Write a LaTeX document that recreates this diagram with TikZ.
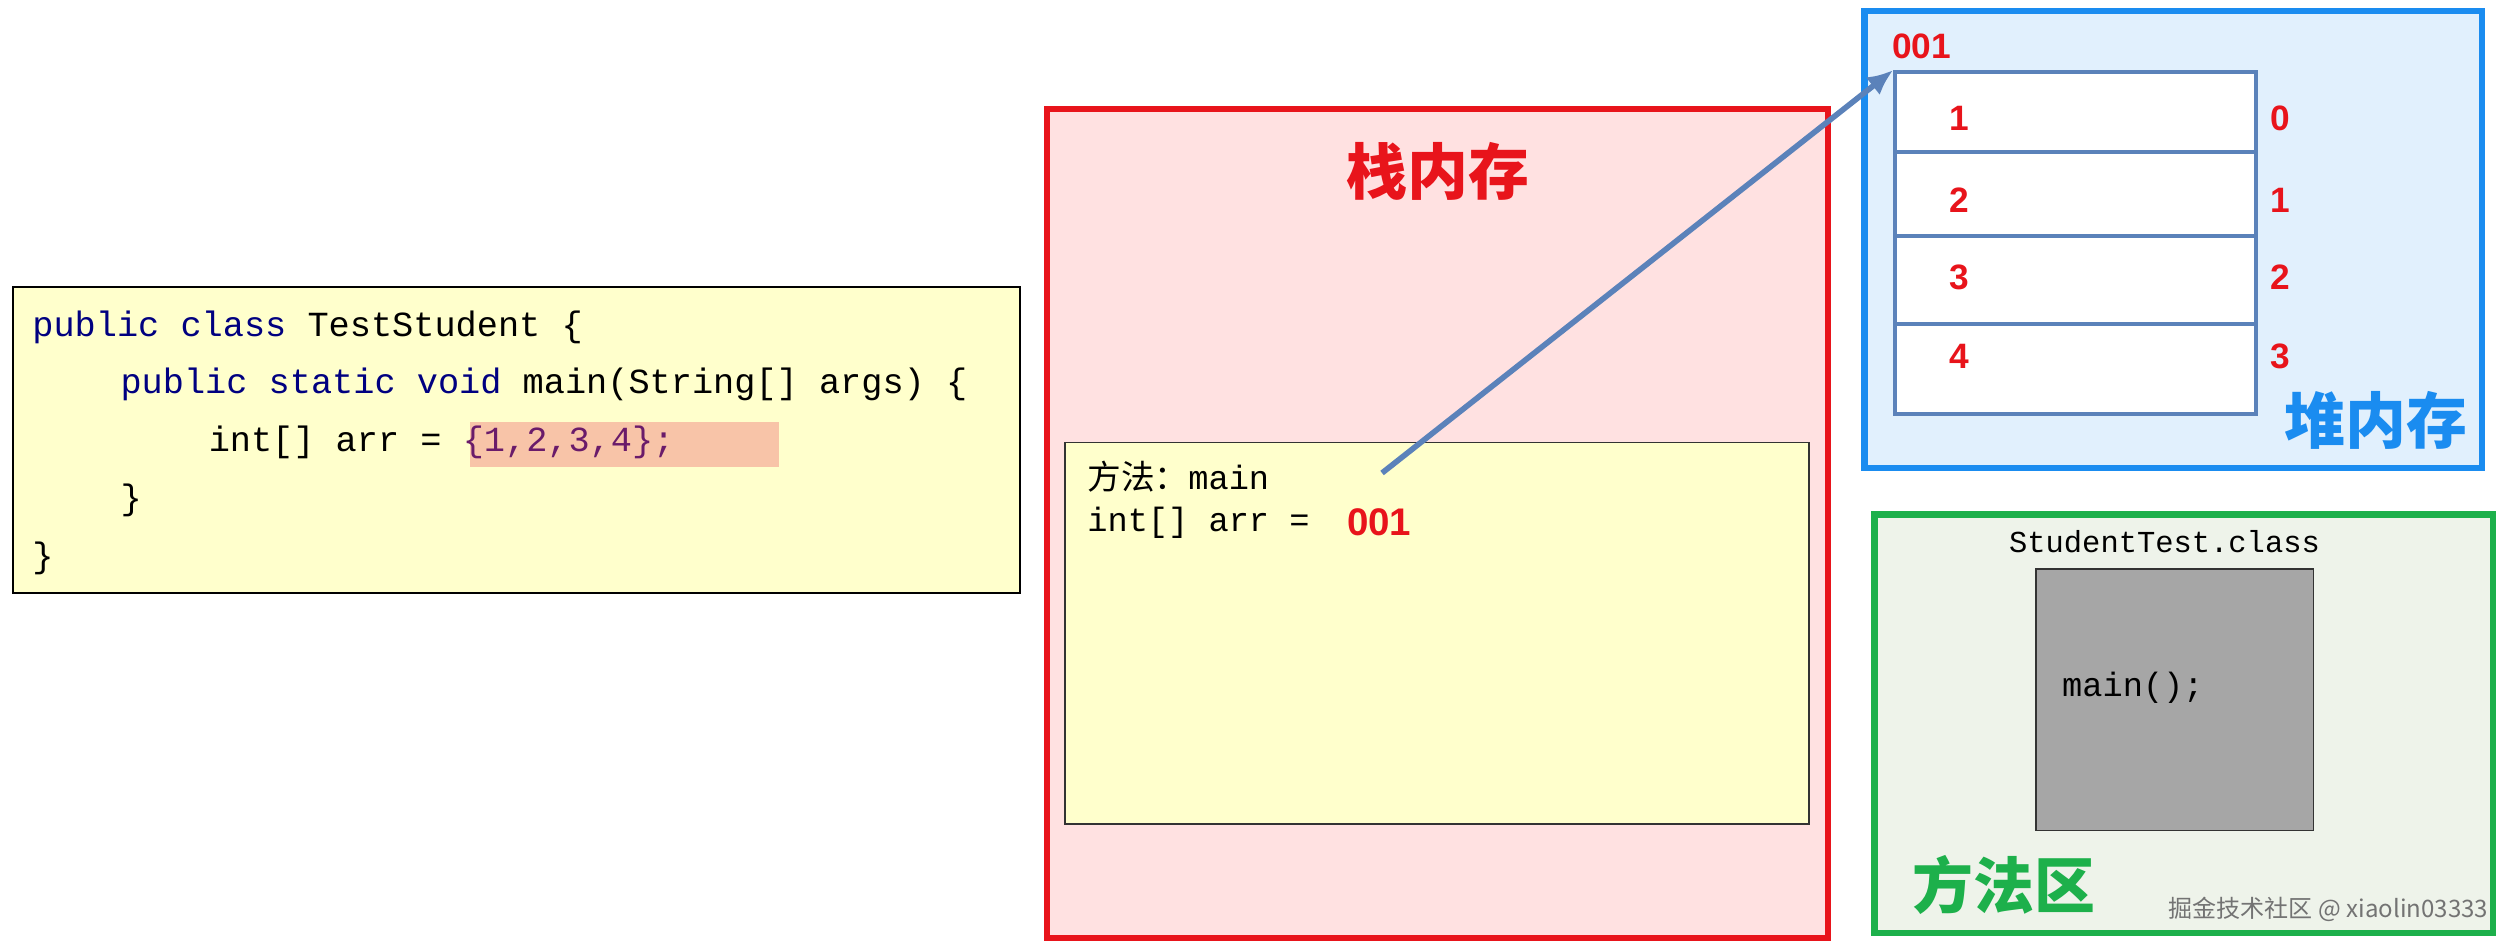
\documentclass[tikz,border=0pt]{standalone}
\usepackage{fontspec}
\usetikzlibrary{arrows.meta}
\setmainfont{Liberation Sans}
\setmonofont{Liberation Mono}
\newfontfamily\cjk{Noto Sans CJK SC}
\definecolor{kw}{HTML}{000080}
\definecolor{hl}{HTML}{F8C4A8}
\definecolor{lit}{HTML}{6A1B6A}
\definecolor{cy}{HTML}{FFFFCC}
\definecolor{stk}{HTML}{FFE1E1}
\definecolor{rd}{HTML}{E8141B}
\definecolor{bl}{HTML}{1A8CF0}
\definecolor{hp}{HTML}{E1F0FD}
\definecolor{sb}{HTML}{5B82BA}
\definecolor{gr}{HTML}{1DB04B}
\definecolor{ma}{HTML}{EEF3EA}
\begin{document}
\begin{tikzpicture}[x=1pt,y=-1pt,
  code/.style={anchor=west,font=\ttfamily\fontsize{22}{26}\selectfont,inner sep=0},
  idx/.style={font=\bfseries\fontsize{22}{26}\selectfont,text=rd,inner sep=0},
  cell/.style={draw=sb,line width=2.5pt,fill=white,minimum width=225,minimum height=53,inner sep=0}]
\useasboundingbox (0,0) rectangle (1568,589);
% code box
\node[draw=black,line width=1pt,fill=cy,minimum width=628,minimum height=191,inner sep=0] (codebox) at (322,274.5) {};
\fill[hl] (293,263) rectangle (486,291);
\node[code] (c1) at (20,204) {\textcolor{kw}{public class} TestStudent \{};
\node[code] (c2) at (75,240) {\textcolor{kw}{public static void} main(String[] args) \{};
\node[code] (c3) at (130,276) {int[] arr = \textcolor{lit}{\{1,2,3,4\};}};
\node[code] (c4) at (75,312) {\}};
\node[code] (c5) at (20,348) {\}};
% stack
\node[draw=rd,line width=4pt,fill=stk,minimum width=487,minimum height=517,inner sep=0] (stack) at (896.5,326.5) {};
\node[text=rd,font=\cjk\bfseries\fontsize{38}{40}\selectfont] (st) at (897,107) {栈内存};
\node[draw=black!80,line width=1.2pt,fill=cy,minimum width=464,minimum height=238,inner sep=0] (frame) at (896,395) {};
\node[anchor=west,inner sep=0,font=\ttfamily\fontsize{21}{24}\selectfont] (m1) at (678,297) {{\cjk 方法：}main};
\node[anchor=west,inner sep=0,font=\ttfamily\fontsize{21}{24}\selectfont] (m2) at (678,326) {int[] arr =};
\node[anchor=west,inner sep=0,text=rd,font=\bfseries\fontsize{24}{26}\selectfont] (ref) at (840,326) {001};
\coordinate (as) at (862,295);
% heap
\node[draw=bl,line width=4pt,fill=hp,minimum width=385,minimum height=285,inner sep=0] (heap) at (1355.5,149.5) {};
\node[anchor=west,inner sep=0,text=rd,font=\bfseries\fontsize{22}{26}\selectfont] (haddr) at (1180,29) {001};
\node[cell,minimum height=50] (r0) at (1294.5,70) {};
\node[cell,minimum height=52] (r1) at (1294.5,121) {};
\node[cell,minimum height=55] (r2) at (1294.5,174.5) {};
\node[cell,minimum height=56] (r3) at (1294.5,230) {};
\foreach \i/\v/\y in {0/1/74,1/2/125,2/3/173,3/4/222}{
  \node[idx] (v\i) at (1222,\y) {\v};
  \node[idx] (k\i) at (1422,\y) {\i};
}
\node[text=bl,font=\cjk\bfseries\fontsize{38}{40}\selectfont] (ht) at (1482,262) {堆内存};
\draw[sb,line width=3.5pt,-{Latex[length=16pt,width=14pt]}] (as) -- (r0.north west);
% method area
\node[draw=gr,line width=4pt,fill=ma,minimum width=386,minimum height=261,inner sep=0] (marea) at (1362,451.5) {};
\node[inner sep=0,font=\ttfamily\fontsize{19}{22}\selectfont] (cls) at (1350,338) {StudentTest.class};
\node[draw=black!80,line width=1pt,fill=black!35,minimum width=173,minimum height=163,inner sep=0] (mbox) at (1356.5,436.5) {};
\node[anchor=west,inner sep=0,font=\ttfamily\fontsize{21}{24}\selectfont] (mm) at (1286,429) {main();};
\node[text=gr,font=\cjk\bfseries\fontsize{38}{40}\selectfont] (mt) at (1250,552) {方法区};
\node[anchor=east,inner sep=0,text=black!55,font=\cjk\fontsize{15}{18}\selectfont] (wm) at (1552,567) {掘金技术社区 @ xiaolin03333};
\end{tikzpicture}
\end{document}
